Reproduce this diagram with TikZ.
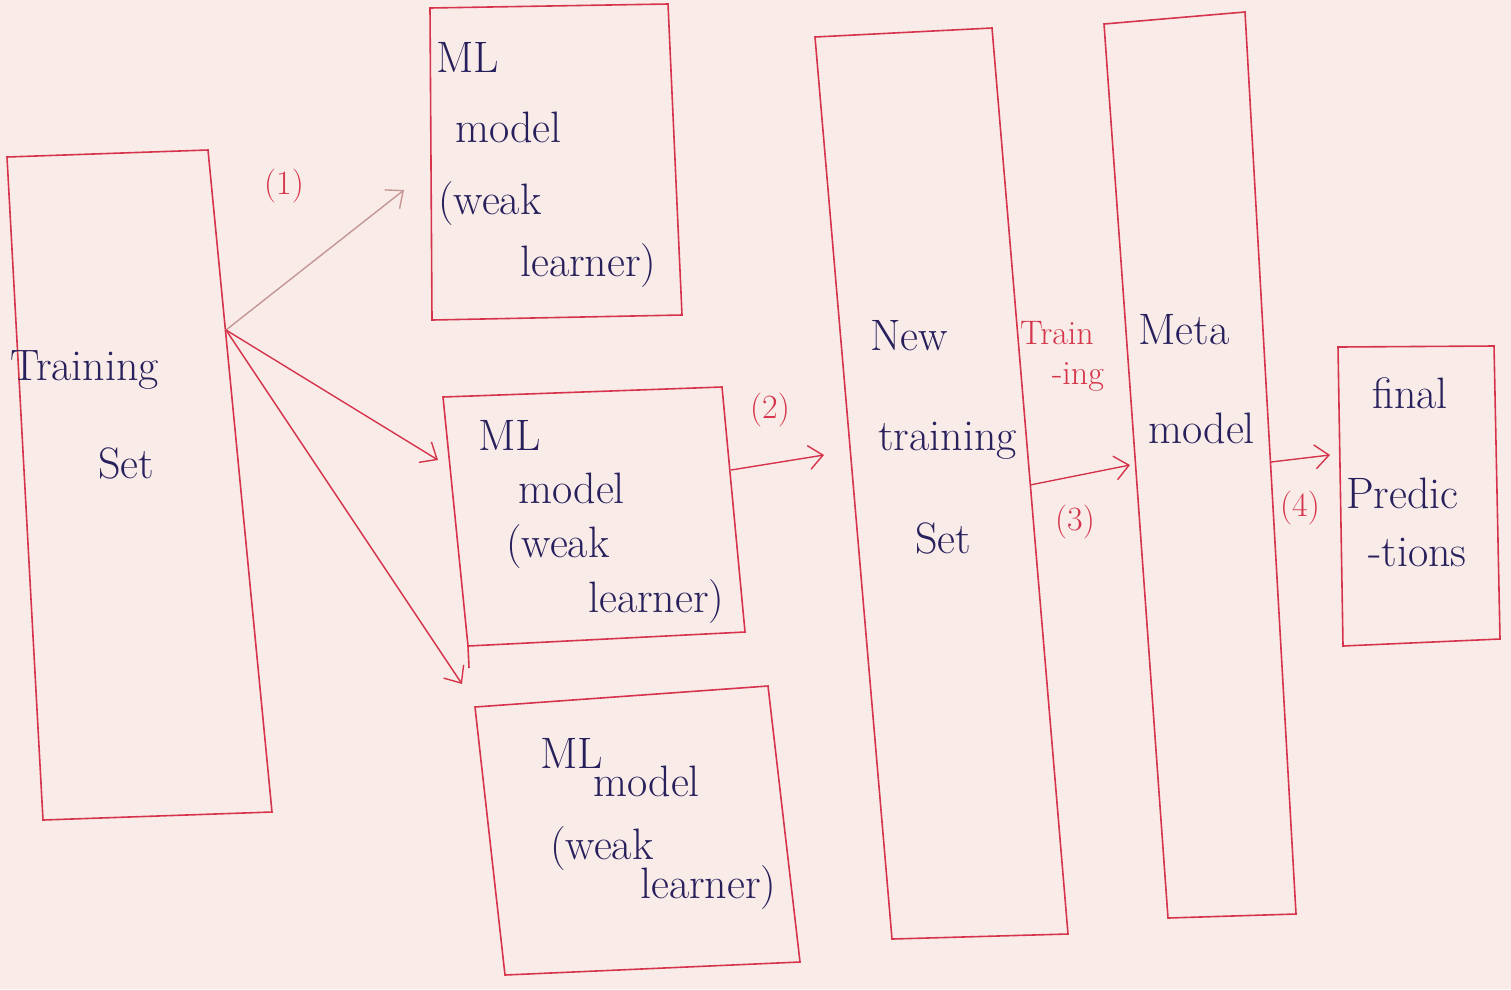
\documentclass[tikz,border=0pt]{standalone}
\usetikzlibrary{arrows.meta}
\definecolor{paper}{RGB}{249,236,232}
\definecolor{pen}{RGB}{214,52,74}
\definecolor{ink}{RGB}{40,32,92}
\definecolor{pencil}{RGB}{196,150,150}
\tikzset{
  boxline/.style={draw=pen, line width=1.6pt, line join=miter},
  txt/.style={text=ink, font=\fontsize{44}{48}\selectfont, inner sep=0pt, anchor=base west},
  lbl/.style={text=pen, font=\fontsize{34}{38}\selectfont, inner sep=0pt},
  conn/.style={draw=pen, line width=1.4pt, -{Straight Barb[length=14pt,width=24pt,line width=1.4pt]}},
}
\begin{document}
\begin{tikzpicture}[x=1pt,y=-1pt]
\fill[paper] (0,0) rectangle (1511,989);
\useasboundingbox (0,0) rectangle (1511,989);

% boxes (hand-drawn, slightly skewed quadrilaterals)
\draw[boxline] (7,157) coordinate (tsTL) -- (208,150) coordinate (tsTR) -- (272,812) coordinate (tsBR) -- (43,820) coordinate (tsBL) -- cycle;
\draw[boxline] (430,8) coordinate (b1TL) -- (668,4) coordinate (b1TR) -- (682,315) coordinate (b1BR) -- (432,320) coordinate (b1BL) -- cycle;
\draw[boxline] (443,397) coordinate (b2TL) -- (722,387) coordinate (b2TR) -- (745,632) coordinate (b2BR) -- (468,646) coordinate (b2BL) -- cycle;
\draw[boxline] (b2BL) -- (469,668);
\draw[boxline] (475,707) coordinate (b3TL) -- (768,686) coordinate (b3TR) -- (800,962) coordinate (b3BR) -- (505,975) coordinate (b3BL) -- cycle;
\draw[boxline] (815,37) coordinate (ntTL) -- (992,28) coordinate (ntTR) -- (1068,934) coordinate (ntBR) -- (892,939) coordinate (ntBL) -- cycle;
\draw[boxline] (1104,24) coordinate (mmTL) -- (1245,12) coordinate (mmTR) -- (1296,914) coordinate (mmBR) -- (1168,918) coordinate (mmBL) -- cycle;
\draw[boxline] (1338,347) coordinate (fpTL) -- (1494,346) coordinate (fpTR) -- (1500,639) coordinate (fpBR) -- (1343,646) coordinate (fpBL) -- cycle;

% texts
\node[txt] (tsa) at (10,380) {Training};
\node[txt] (tsb) at (98,478) {Set};

\node[txt] (b1a) at (436,72) {ML};
\node[txt] (b1b) at (455,142) {model};
\node[txt] (b1c) at (438,214) {(weak};
\node[txt] (b1d) at (520,276) {learner)};

\node[txt] (b2a) at (478,450) {ML};
\node[txt] (b2b) at (518,503) {model};
\node[txt] (b2c) at (506,557) {(weak};
\node[txt] (b2d) at (588,612) {learner)};

\node[txt] (b3a) at (540,768) {ML};
\node[txt] (b3b) at (593,796) {model};
\node[txt] (b3c) at (550,859) {(weak};
\node[txt] (b3d) at (640,898) {learner)};

\node[txt] (nta) at (870,350) {New};
\node[txt] (ntb) at (878,450) {training};
\node[txt] (ntc) at (915,553) {Set};

\node[txt] (mma) at (1138,344) {Meta};
\node[txt] (mmb) at (1148,443) {model};

\node[txt] (fpa) at (1372,408) {final};
\node[txt] (fpb) at (1346,508) {Predic};
\node[txt] (fpc) at (1368,566) {-tions};

% labels
\node[lbl] (l1) at (284,186) {(1)};
\node[lbl] (l2) at (770,410) {(2)};
\node[lbl] (l3) at (1075,522) {(3)};
\node[lbl] (l4) at (1300,508) {(4)};
\node[lbl, anchor=base west] (ltr) at (1020,344) {Train};
\node[lbl, anchor=base west] (ling) at (1052,384) {-ing};

% connectors
\coordinate (src) at (226,330);
\coordinate (e1) at (404,190);
\coordinate (e2) at (438,460);
\coordinate (e3) at (462,684);
\draw[conn, draw=pencil] (src) -- (e1);
\draw[conn] (src) -- (e2);
\draw[conn] (src) -- (e3);
\coordinate (s4) at (731,470);
\coordinate (e4) at (824,455);
\coordinate (s5) at (1030,485);
\coordinate (e5) at (1130,465);
\coordinate (s6) at (1271,462);
\coordinate (e6) at (1330,455);
\draw[conn] (s4) -- (e4);
\draw[conn] (s5) -- (e5);
\draw[conn] (s6) -- (e6);
\end{tikzpicture}
\end{document}
